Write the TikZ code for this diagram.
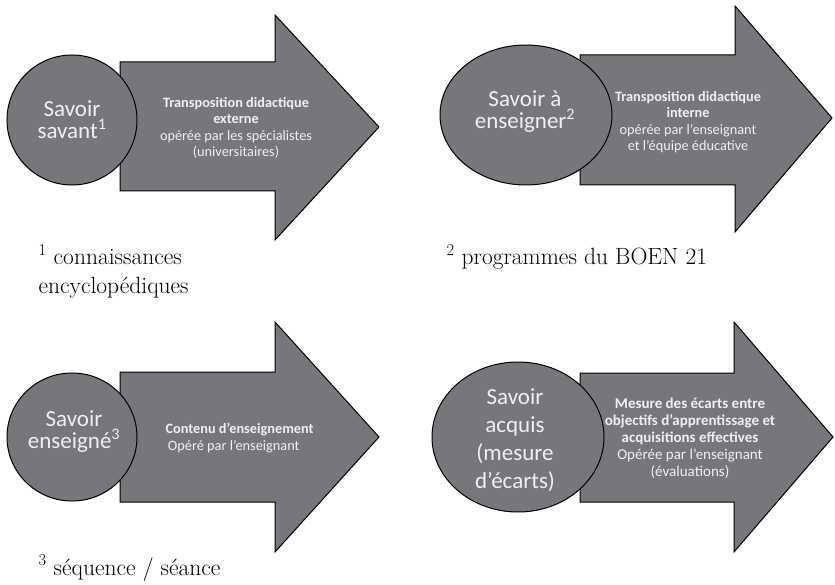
\documentclass[tikz,border=0pt]{standalone}
\usepackage{fontspec}
\setsansfont{Carlito}
\usetikzlibrary{shapes.geometric}
\definecolor{savoirgray}{RGB}{118,119,123}
\definecolor{lighttext}{RGB}{240,240,240}

\begin{document}
\begin{tikzpicture}[x=1pt,y=-1pt,
    arrowbody/.style={fill=savoirgray,draw=black,line width=1pt,line join=miter},
    savoir/.style={ellipse,fill=savoirgray,draw=black,line width=1pt,inner sep=0pt},
    savoirtext/.style={text=lighttext,font=\sffamily\fontsize{23}{22}\selectfont,align=center},
    arrowtext/.style={text=lighttext,font=\sffamily\fontsize{14.3}{16.5}\selectfont,align=center},
    note/.style={font=\fontsize{23.5}{29}\selectfont,align=left,anchor=base west}]
  \useasboundingbox (0,0) rectangle (835,585);
  \draw[arrowbody] (120,62) -- (275,62) -- (275,15) -- (379,127) -- (275,240) -- (275,191) -- (120,191) -- cycle;
  \draw[arrowbody] (580,55) -- (735,55) -- (735,6) -- (832,118) -- (735,232) -- (735,185) -- (580,185) -- cycle;
  \draw[arrowbody] (120,372) -- (275,372) -- (275,322) -- (379,437) -- (275,552) -- (275,502) -- (120,502) -- cycle;
  \draw[arrowbody] (580,373) -- (734,373) -- (734,322) -- (833,437) -- (734,552) -- (734,502) -- (580,502) -- cycle;
  \node[savoir,minimum width=130,minimum height=130] (savant) at (72,120) {};
  \node[savoir,minimum width=172,minimum height=140] (aenseigner) at (526,115) {};
  \node[savoir,minimum width=130,minimum height=128] (enseigne) at (72,437) {};
  \node[savoir,minimum width=172,minimum height=150] (acquis) at (518,437) {};
  \node[savoirtext] (savanttext) at (savant.center) {Savoir\\savant\textsuperscript{1}};
  \node[savoirtext] (aenseignertext) at (525,112) {Savoir à\\enseigner\textsuperscript{2}};
  \node[savoirtext] (enseignetext) at (74,432) {Savoir\\enseigné\textsuperscript{3}};
  \node[savoirtext,font=\sffamily\fontsize{23}{28}\selectfont] (acquistext) at (515,440) {Savoir\\acquis\\(mesure\\d’écarts)};
  \node[arrowtext] (externe) at (236,128) {\textbf{Transposition didactique}\\\textbf{externe}\\opérée par les spécialistes\\(universitaires)};
  \node[arrowtext] (interne) at (688,122) {\textbf{Transposition didactique}\\\textbf{interne}\\opérée par l’enseignant\\et l’équipe éducative};
  \node[arrowtext,align=left,anchor=west] (contenu) at (162,438) {\textbf{Contenu d’enseignement}\\\,Opéré par l’enseignant};
  \node[arrowtext,font=\sffamily\fontsize{15}{17}\selectfont] (ecarts) at (690,438) {\textbf{Mesure des écarts entre}\\\textbf{objectifs d’apprentissage et}\\\textbf{acquisitions effectives}\\Opérée par l’enseignant\\(évaluations)};
  \node[note] (note1) at (35,294) {\textsuperscript{1} connaissances\\encyclopédiques};
  \node[note] (note2) at (443,265) {\textsuperscript{2} programmes du BOEN 21};
  \node[note] (note3) at (35,575) {\textsuperscript{3} séquence / séance};
\end{tikzpicture}
\end{document}
